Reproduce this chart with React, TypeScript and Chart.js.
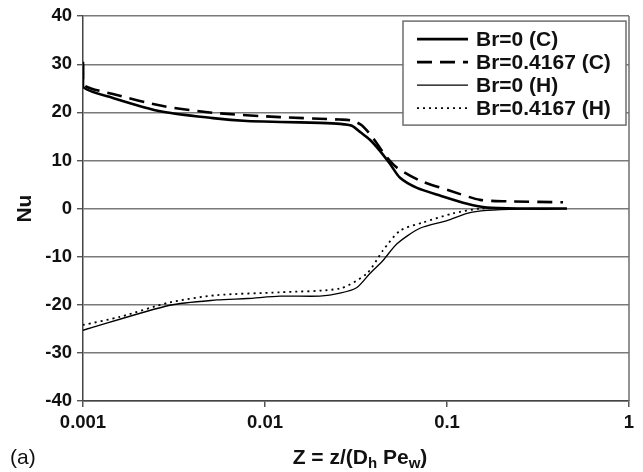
import React, { useEffect, useRef } from "react";
import { Chart, registerables } from "chart.js";

Chart.register(...registerables);

const seriesLabels = ["Br=0 (C)", "Br=0.4167 (C)", "Br=0 (H)", "Br=0.4167 (H)"];

const zC0 = [0.001, 0.001, 0.00146, 0.00275, 0.00518, 0.00796, 0.0121, 0.02, 0.0258, 0.03, 0.0336, 0.0377, 0.0428, 0.0486, 0.0552, 0.0684, 0.0916, 0.129, 0.166, 0.25, 0.456];
const nuC0 = [30.5, 25.3, 23.0, 20.1, 18.8, 18.2, 18.0, 17.8, 17.6, 17.2, 15.8, 14.3, 12.0, 9.3, 6.4, 4.3, 2.7, 1.0, 0.2, 0.0, 0.0];

const zC1 = [0.001, 0.001, 0.00146, 0.00275, 0.00518, 0.0121, 0.0258, 0.03, 0.034, 0.0392, 0.0453, 0.0531, 0.071, 0.104, 0.152, 0.214, 0.434];
const nuC1 = [30.0, 25.8, 23.8, 21.3, 19.9, 19.0, 18.5, 18.3, 17.3, 14.7, 11.3, 8.5, 5.8, 3.7, 1.8, 1.5, 1.3];

const zH0 = [0.001, 0.003, 0.00545, 0.008, 0.0121, 0.02, 0.0258, 0.032, 0.0377, 0.0445, 0.0531, 0.071, 0.1, 0.129, 0.166, 0.25, 0.456];
const nuH0 = [-25.3, -20.1, -19.0, -18.7, -18.2, -18.2, -17.6, -16.4, -13.5, -10.8, -7.3, -4.1, -2.5, -1.0, -0.4, -0.1, 0.0];

const zH1 = [0.001, 0.0016, 0.003, 0.00545, 0.0121, 0.0258, 0.0363, 0.0445, 0.0552, 0.0738, 0.108, 0.152, 0.2];
const nuH1 = [-24.2, -22.5, -19.5, -18.0, -17.4, -16.6, -13.5, -8.7, -4.6, -2.9, -1.0, 0.0, 0.0];

const xTickValues = [0.001, 0.01, 0.1, 1];
const xTickLabels = ["0.001", "0.01", "0.1", "1"];
const yMin = -40;
const yMax = 40;
const yStep = 10;

const FONT = '"Liberation Sans", Arial, Helvetica, sans-serif';

function pts(xs: number[], ys: number[]) {
  return xs.map((x, i) => ({ x, y: ys[i] }));
}

const overlay = {
  id: "overlay",
  afterDraw(chart: any) {
    const ctx = chart.ctx as CanvasRenderingContext2D;
    const a = chart.chartArea;
    ctx.save();
    // right frame line
    ctx.strokeStyle = "#6e6e6e";
    ctx.lineWidth = 1.5;
    ctx.beginPath();
    ctx.moveTo(a.right, a.top);
    ctx.lineTo(a.right, a.bottom);
    ctx.stroke();

    // legend box
    const bx = a.right - 226;
    const by = a.top + 5;
    const bw = 223;
    const bh = 104;
    ctx.fillStyle = "#ffffff";
    ctx.fillRect(bx, by, bw, bh);
    ctx.strokeStyle = "#6e6e6e";
    ctx.lineWidth = 1.5;
    ctx.strokeRect(bx, by, bw, bh);
    const ds = chart.data.datasets;
    ctx.font = `bold 21px ${FONT}`;
    ctx.textBaseline = "middle";
    ctx.textAlign = "left";
    ds.forEach((d: any, i: number) => {
      const cy = by + 18 + i * 23;
      ctx.strokeStyle = "#000";
      ctx.lineWidth = d.borderWidth;
      ctx.setLineDash(d.borderDash || []);
      ctx.beginPath();
      ctx.moveTo(bx + 14, cy);
      ctx.lineTo(bx + 65, cy);
      ctx.stroke();
      ctx.setLineDash([]);
      ctx.fillStyle = "#111";
      ctx.fillText(d.label, bx + 73, cy + 1);
    });

    // y title
    ctx.save();
    ctx.translate(25, (a.top + a.bottom) / 2);
    ctx.rotate(-Math.PI / 2);
    ctx.font = `bold 21px ${FONT}`;
    ctx.textAlign = "center";
    ctx.textBaseline = "middle";
    ctx.fillStyle = "#111";
    ctx.fillText("Nu", 0, 0);
    ctx.restore();

    // x title with subscripts
    const parts: [string, boolean][] = [["Z = z/(D", false], ["h", true], [" Pe", false], ["w", true], [")", false]];
    const mainFont = `bold 21px ${FONT}`;
    const subFont = `bold 15px ${FONT}`;
    let total = 0;
    parts.forEach(([t, sub]) => {
      ctx.font = sub ? subFont : mainFont;
      total += ctx.measureText(t).width;
    });
    let x = (a.left + a.right) / 2 - total / 2 + 4;
    const base = 464;
    ctx.textAlign = "left";
    ctx.textBaseline = "alphabetic";
    ctx.fillStyle = "#111";
    parts.forEach(([t, sub]) => {
      ctx.font = sub ? subFont : mainFont;
      ctx.fillText(t, x, sub ? base + 4 : base);
      x += ctx.measureText(t).width;
    });

    // panel label
    ctx.font = `21px ${FONT}`;
    ctx.fillText("(a)", 10, base);
    ctx.restore();
  },
};

export default function App() {
  const ref = useRef<HTMLCanvasElement | null>(null);
  useEffect(() => {
    if (!ref.current) return;
    const chart = new Chart(ref.current, {
      type: "line",
      data: {
        datasets: [
          { label: seriesLabels[0], data: pts(zC0, nuC0), borderColor: "#000", borderWidth: 2.6, borderDash: [], pointRadius: 0, tension: 0.25 },
          { label: seriesLabels[1], data: pts(zC1, nuC1), borderColor: "#000", borderWidth: 2.6, borderDash: [15, 8], pointRadius: 0, tension: 0.25 },
          { label: seriesLabels[2], data: pts(zH0, nuH0), borderColor: "#000", borderWidth: 1.3, borderDash: [], pointRadius: 0, tension: 0.25 },
          { label: seriesLabels[3], data: pts(zH1, nuH1), borderColor: "#000", borderWidth: 1.8, borderDash: [2, 4], pointRadius: 0, tension: 0.25 },
        ],
      },
      options: {
        responsive: false,
        animation: false,
        layout: { padding: { top: 15, right: 14, left: 0, bottom: 0 } },
        plugins: { legend: { display: false }, tooltip: { enabled: false } },
        scales: {
          x: {
            type: "logarithmic",
            min: 0.001,
            max: 1,
            afterBuildTicks: (s: any) => {
              s.ticks = xTickValues.map((v) => ({ value: v }));
            },
            afterFit: (s: any) => {
              s.height = 71;
            },
            ticks: {
              autoSkip: false,
              maxRotation: 0,
              padding: 5,
              color: "#111",
              font: { family: FONT, size: 18.5, weight: "bold" },
              callback: (v: any) => {
                const i = xTickValues.indexOf(Number(v));
                return i >= 0 ? xTickLabels[i] : "";
              },
            },
            grid: { drawOnChartArea: false, tickLength: 6, tickColor: "#555", lineWidth: 1.5 },
            border: { display: true, color: "#444", width: 1.5 },
          },
          y: {
            type: "linear",
            min: yMin,
            max: yMax,
            afterFit: (s: any) => {
              s.width = 83;
            },
            ticks: {
              stepSize: yStep,
              padding: 5,
              color: "#111",
              font: { family: FONT, size: 18.5, weight: "bold" },
            },
            grid: { color: "#7a7a7a", lineWidth: 1.4, tickLength: 6, tickColor: "#555" },
            border: { display: true, color: "#444", width: 1.5 },
          },
        },
      },
      plugins: [overlay],
    } as any);
    return () => chart.destroy();
  }, []);
  return (
    <div style={{ position: "absolute", left: 0, top: 0, width: 643, height: 472, background: "#fff" }}>
      <canvas ref={ref} width={643} height={472} style={{ display: "block" }} />
    </div>
  );
}
